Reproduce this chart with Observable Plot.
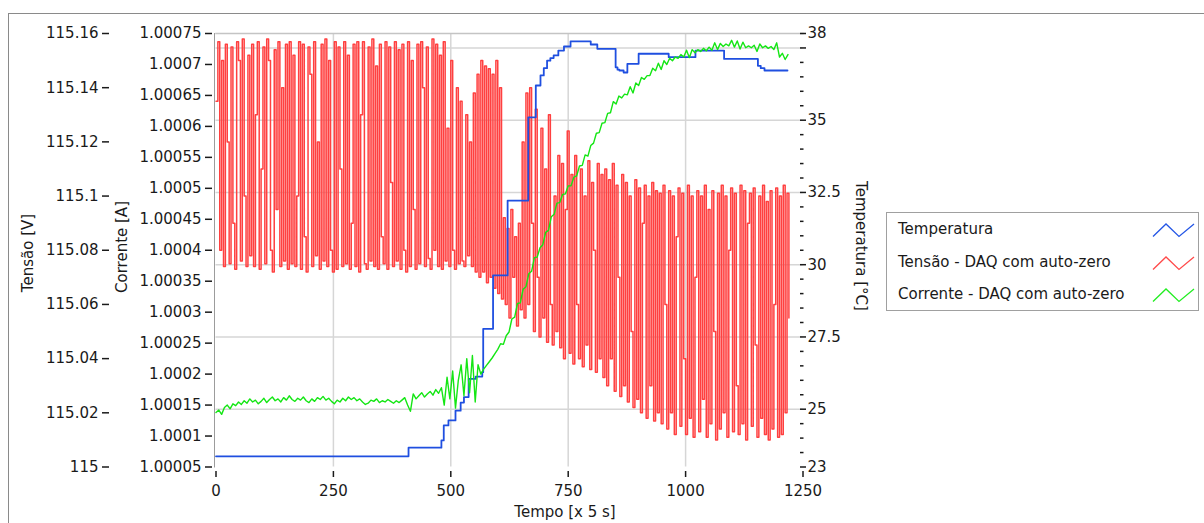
<!DOCTYPE html>
<html><head><meta charset="utf-8">
<script src="https://cdn.jsdelivr.net/npm/d3@7"></script>
<script src="https://cdn.jsdelivr.net/npm/@observablehq/plot@0.6"></script>
<style>
body{margin:0;background:#fff;}
#wrap{position:relative;width:1204px;height:523px;overflow:hidden;font-family:"DejaVu Sans",sans-serif;font-size:15px;color:#1a1a1a;}
#border{position:absolute;left:8px;top:13px;width:1400px;height:700px;border-top:1px solid #8a8a8a;border-left:1px solid #8a8a8a;}
#chart{position:absolute;left:0;top:0;}
.t{position:absolute;white-space:nowrap;line-height:1;}
#legend{position:absolute;left:886px;top:212px;width:313px;height:99px;border:1px solid #a0a0a0;box-sizing:border-box;background:#fff;}
.lrow{position:absolute;left:11px;white-space:nowrap;line-height:1;}
.lsym{position:absolute;left:265px;}
</style></head>
<body>
<div id="wrap">
  <div id="border"></div>
  <div id="chart"></div>
  <div class="t" style="left:28px;top:253px;transform:translate(-50%,-50%) rotate(-90deg);">Tensão [V]</div>
  <div class="t" style="left:122px;top:247px;transform:translate(-50%,-50%) rotate(-90deg);">Corrente [A]</div>
  <div class="t" style="left:860px;top:246px;transform:translate(-50%,-50%) rotate(90deg);">Temperatura [°C]</div>
  <div class="t" style="left:565px;top:512px;transform:translate(-50%,-50%);">Tempo [x 5 s]</div>
  <div id="legend"></div>
</div>
<script>
// ---- data ----
const xTicks = [0, 250, 500, 750, 1000, 1250];
const xGrid = [250, 500, 750, 1000];
const tensaoTicks = [115, 115.02, 115.04, 115.06, 115.08, 115.1, 115.12, 115.14, 115.16];
const correnteTicks = [1.00005, 1.0001, 1.00015, 1.0002, 1.00025, 1.0003, 1.00035, 1.0004, 1.00045, 1.0005, 1.00055, 1.0006, 1.00065, 1.0007, 1.00075];
const tempMajor = [23, 25, 27.5, 30, 32.5, 35, 37.5, 38];
const tempLabels = ["23", "25", "27.5", "30", "32.5", "35", "", "38"];
const tempMinor = [23.5, 24, 24.5, 25.5, 26, 26.5, 27, 28, 28.5, 29, 29.5, 30.5, 31, 31.5, 32, 33, 33.5, 34, 34.5, 35.5, 36, 36.5, 37];
const tempGrid = [25, 27.5, 30, 32.5, 35, 37.5];

// Tensão - DAQ com auto-zero (one sample every 4 time units)
const tensaoStep = 4;
const tensao = [
115.135,115.157,115.080,115.150,115.074,115.156,115.120,115.075,115.155,115.090,115.073,115.157,115.150,115.076,115.158,115.100,115.074,115.152,115.078,115.156,
115.074,115.130,115.157,115.073,115.110,115.155,115.075,115.158,115.150,115.080,115.072,115.154,115.095,115.157,115.074,115.140,115.076,115.156,115.073,115.157,
115.075,115.152,115.074,115.100,115.157,115.073,115.156,115.085,115.072,115.155,115.145,115.074,115.157,115.078,115.120,115.073,115.156,115.076,115.158,115.074,
115.150,115.080,115.072,115.157,115.073,115.155,115.110,115.074,115.157,115.075,115.152,115.073,115.090,115.156,115.074,115.157,115.072,115.130,115.157,115.075,
115.073,115.155,115.076,115.158,115.074,115.148,115.073,115.156,115.085,115.075,115.157,115.073,115.155,115.105,115.074,115.157,115.076,115.154,115.073,115.156,
115.080,115.072,115.157,115.074,115.150,115.095,115.073,115.156,115.075,115.157,115.140,115.074,115.155,115.077,115.073,115.158,115.080,115.156,115.074,115.152,
115.073,115.157,115.076,115.125,115.074,115.150,115.080,115.073,115.140,115.075,115.135,115.076,115.074,115.130,115.078,115.120,115.074,115.138,115.072,115.145,
115.070,115.150,115.072,115.148,115.068,115.147,115.070,115.145,115.066,115.150,115.064,115.140,115.062,
115.092,115.060,115.088,115.055,115.095,115.070,115.085,115.052,115.090,115.058,115.120,115.055,115.138,
115.060,115.140,115.090,115.050,115.132,115.070,115.048,115.125,115.055,115.110,115.046,115.130,115.060,115.045,115.100,115.050,115.115,115.044,
115.112,115.040,115.095,115.124,115.042,115.108,115.038,115.115,115.060,115.040,115.110,115.037,115.100,115.045,115.113,115.036,115.105,115.080,115.035,115.112,115.040,115.108,
115.033,115.110,115.030,115.106,115.040,115.112,115.028,115.104,115.070,115.026,115.108,115.030,115.105,115.024,115.100,115.050,115.022,115.106,115.025,115.103,115.020,115.090,115.104,115.018,115.100,115.030,115.105,115.017,115.102,115.020,
115.101,115.016,115.104,115.060,115.014,115.102,115.020,115.100,115.012,115.085,115.103,115.015,115.101,115.040,115.012,115.104,115.018,115.100,115.011,115.070,
115.102,115.013,115.100,115.025,115.104,115.011,115.095,115.016,115.102,115.050,115.010,115.101,115.014,115.104,115.020,115.100,115.011,115.080,115.103,115.013,
115.101,115.030,115.012,115.104,115.016,115.102,115.010,115.090,115.101,115.015,115.103,115.045,115.011,115.100,115.018,115.104,115.012,115.098,115.010,115.102,
115.014,115.060,115.103,115.011,115.100,115.012,115.104,115.020,115.101,115.055
];

// Corrente - DAQ com auto-zero (one sample every 6 time units)
const correnteStep = 6;
const corrente = [
1.000138,1.000142,1.000135,1.000146,1.000150,1.000144,1.000152,1.000149,1.000155,1.000151,
1.000157,1.000153,1.000160,1.000155,1.000158,1.000152,1.000156,1.000161,1.000154,1.000159,
1.000163,1.000157,1.000160,1.000155,1.000162,1.000158,1.000165,1.000159,1.000156,1.000161,
1.000158,1.000163,1.000157,1.000154,1.000160,1.000156,1.000162,1.000159,1.000164,1.000158,
1.000161,1.000156,1.000152,1.000158,1.000155,1.000161,1.000157,1.000163,1.000159,1.000162,
1.000157,1.000160,1.000155,1.000151,1.000153,1.000158,1.000156,1.000160,1.000154,1.000157,
1.000155,1.000159,1.000156,1.000153,1.000157,1.000154,1.000158,1.000162,1.000150,1.000140,
1.000168,1.000160,1.000165,1.000170,1.000163,1.000168,1.000172,1.000166,1.000175,1.000169,
1.000178,1.000150,1.000195,1.000160,1.000205,1.000145,1.000190,1.000215,1.000165,1.000225,
1.000170,1.000230,1.000155,1.000215,1.000200,1.000208,1.000214,1.000220,1.000226,1.000233,
1.000240,1.000249,1.000248,1.000262,1.000268,1.000289,1.000292,1.000314,1.000315,1.000337,
1.000341,1.000362,1.000366,1.000388,1.000389,1.000404,1.000409,1.000429,1.000432,1.000454,
1.000458,1.000476,1.000477,1.000490,1.000491,1.000504,1.000504,1.000518,1.000520,1.000536,
1.000537,1.000554,1.000552,1.000569,1.000573,1.000589,1.000590,1.000605,1.000606,1.000621,
1.000622,1.000640,1.000636,1.000649,1.000646,1.000652,1.000651,1.000664,1.000654,1.000670,
1.000666,1.000679,1.000676,1.000682,1.000682,1.000694,1.000690,1.000702,1.000692,1.000706,
1.000700,1.000710,1.000706,1.000712,1.000710,1.000716,1.000712,1.000723,1.000711,1.000724,
1.000719,1.000724,1.000721,1.000726,1.000722,1.000728,1.000723,1.000735,1.000724,1.000734,
1.000729,1.000733,1.000730,1.000739,1.000728,1.000738,1.000725,1.000736,1.000727,1.000730,
1.000727,1.000731,1.000721,1.000733,1.000727,1.000730,1.000726,1.000729,1.000724,1.000735,
1.000712,1.000718,1.000708,1.000716
];

// Temperatura (stepped: time of each change, value held after it)
const tempX = [0, 410, 480, 485, 495, 510, 521, 528, 538, 553, 567, 569, 590, 621, 665, 681, 691, 698, 705, 712, 719, 729, 741, 755, 798, 812, 851, 855, 859, 868, 876, 900, 964, 1021, 1082, 1154, 1160, 1168, 1217];
const tempV = [23.37, 23.67, 23.92, 24.44, 24.61, 24.95, 25.23, 25.42, 26.05, 26.13, 26.28, 27.78, 29.63, 32.22, 35.10, 36.20, 36.55, 36.80, 37.06, 37.15, 37.24, 37.41, 37.55, 37.73, 37.62, 37.47, 36.83, 36.75, 36.72, 36.65, 36.95, 37.30, 37.18, 37.41, 37.12, 36.88, 36.80, 36.72, 36.72];

const legendNames = ["Temperatura", "Tensão - DAQ com auto-zero", "Corrente - DAQ com auto-zero"];
const legendColors = ["#2456e6", "#ff4a4a", "#22ee22"];

// ---- scales for the secondary axes (mapped into the Tensão scale) ----
const tensaoDomain = [115, 115.16];
const tempToY = d3.scaleLinear([23, 38], tensaoDomain);
const corToY = d3.scaleLinear([1.00005, 1.00075], tensaoDomain);
const tempLabelMap = new Map(tempMajor.map((t, i) => [tempToY(t), tempLabels[i]]));

const redColor = "#ff4040", blueColor = "#1f4fe0", greenColor = "#14e614";
const gridColor = "#d6d6d6";

const chart = Plot.plot({
  width: 1204, height: 523,
  marginLeft: 215.5, marginRight: 401.5, marginTop: 33, marginBottom: 56.5,
  style: {fontFamily: '"DejaVu Sans", sans-serif', fontSize: "15px", color: "#1a1a1a", background: "transparent", overflow: "visible"},
  x: {domain: [0, 1250]},
  y: {domain: tensaoDomain},
  marks: [
    Plot.ruleX(xGrid, {stroke: gridColor, strokeWidth: 1.5}),
    Plot.ruleY(tempGrid.map(t => tempToY(t)), {stroke: gridColor, strokeWidth: 1.5}),
    Plot.frame({anchor: "top", stroke: "#c4c4c4", strokeWidth: 1.5}),
    Plot.frame({anchor: "left", stroke: "#9c9c9c", dx: -1.5}),
    Plot.line(tensao, {x: (d, i) => i * tensaoStep, y: d => d, curve: "step-after", stroke: redColor, strokeWidth: 1.5}),
    Plot.line(tempV, {x: (d, i) => tempX[i], y: d => tempToY(d), curve: "step-after", stroke: blueColor, strokeWidth: 1.8}),
    Plot.line(corrente, {x: (d, i) => i * correnteStep, y: d => corToY(d), stroke: greenColor, strokeWidth: 1.4}),
    Plot.axisX(xTicks, {anchor: "bottom", tickSize: 6, tickPadding: 8, dy: 4.5, strokeWidth: 1.5, label: null, tickFormat: d => String(d)}),
    Plot.axisY(tensaoTicks, {anchor: "left", tickSize: 7, tickPadding: 4, dx: -106.5, strokeWidth: 1.5, label: null, tickFormat: d => String(+d.toFixed(2))}),
    Plot.axisY(correnteTicks.map(c => corToY(c)), {anchor: "left", tickSize: 7, tickPadding: 4, dx: -3.5, strokeWidth: 1.5, label: null, tickFormat: d => String(+corToY.invert(d).toFixed(5))}),
    Plot.axisY(tempMajor.map(t => tempToY(t)), {anchor: "right", tickSize: 6, tickPadding: 2, dx: -3.5, strokeWidth: 1.5, label: null, tickFormat: d => tempLabelMap.get(d) ?? ""}),
    Plot.axisY(tempMinor.map(t => tempToY(t)), {anchor: "right", tickSize: 3.5, tickPadding: 2, dx: -3.5, strokeWidth: 1.5, label: null, tickFormat: () => ""})
  ]
});
document.getElementById("chart").appendChild(chart);

// ---- legend ----
const legend = document.getElementById("legend");
const rowCenters = [17, 49.5, 82];
legendNames.forEach((name, i) => {
  const row = document.createElement("div");
  row.className = "lrow";
  row.style.top = (rowCenters[i] - 8) + "px";
  row.textContent = name;
  legend.appendChild(row);
  const ns = "http://www.w3.org/2000/svg";
  const svg = document.createElementNS(ns, "svg");
  svg.setAttribute("class", "lsym");
  svg.setAttribute("width", "44");
  svg.setAttribute("height", "16");
  svg.style.top = (rowCenters[i] - 8) + "px";
  const pl = document.createElementNS(ns, "polyline");
  pl.setAttribute("points", "1,14.5 14,2 27,14.5 42,2");
  pl.setAttribute("fill", "none");
  pl.setAttribute("stroke", legendColors[i]);
  pl.setAttribute("stroke-width", "1.3");
  svg.appendChild(pl);
  legend.appendChild(svg);
});
</script>
</body></html>
